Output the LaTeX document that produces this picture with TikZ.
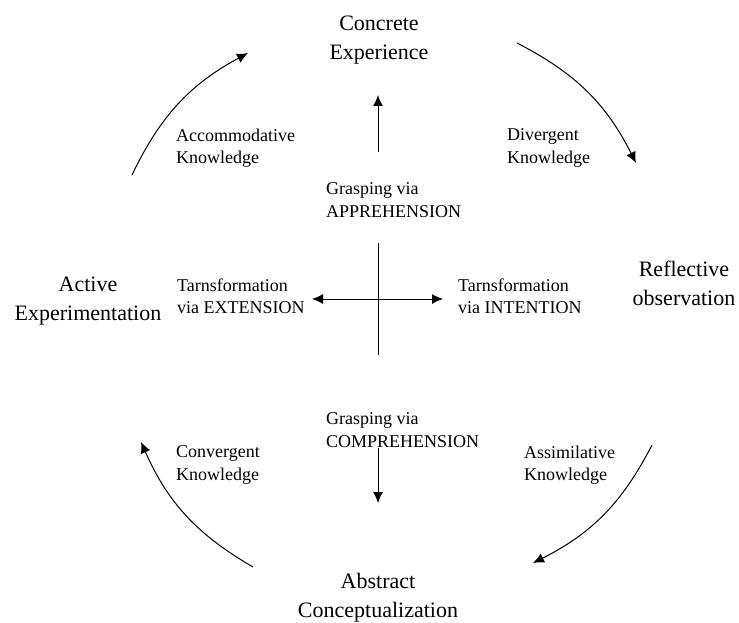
\documentclass[tikz,border=0pt]{standalone}
\usepackage{fontspec}
\setmainfont{Liberation Serif}
\usetikzlibrary{arrows.meta, positioning}

\begin{document}
\begin{tikzpicture}[x=1pt,y=-1pt,
    stage/.style={align=center,font=\fontsize{22}{29}\selectfont,inner sep=0pt},
    note/.style={align=left,anchor=west,font=\fontsize{18}{22.5}\selectfont,inner sep=0pt},
    flow/.style={line width=1pt,-{Latex[length=11pt,width=10pt]}}]
    \useasboundingbox (0,0) rectangle (739,623);

    % the four stages
    \node[stage] (ce) at (379,40) {Concrete\\Experience};
    \node[stage] (ro) at (684,283) {Reflective\\observation};
    \node[stage] (ac) at (378,598) {Abstract\\Conceptualization};
    \node[stage] (ae) at (88,301) {Active\\Experimentation};

    % knowledge types
    \node[note] (accom) at (176,148) {Accommodative\\Knowledge};
    \node[note] (diverg) at (507,148) {Divergent\\Knowledge};
    \node[note] (assim) at (524,465) {Assimilative\\Knowledge};
    \node[note] (converg) at (176,465) {Convergent\\Knowledge};

    % grasping and transformation
    \node[note] (appre) at (326,200) {Grasping via\\APPREHENSION};
    \node[note] (compre) at (326,430) {Grasping via\\COMPREHENSION};
    \node[note] (exten) at (177,296) {Tarnsformation\\via EXTENSION};
    \node[note] (inten) at (458,296) {Tarnsformation\\via INTENTION};

    % end points of the arrows
    \coordinate (up-a) at (378,152);
    \coordinate (up-b) at (378,95);
    \coordinate (down-a) at (378,448);
    \coordinate (down-b) at (378,503);
    \coordinate (vert-a) at (378,243);
    \coordinate (vert-b) at (378,355);
    \coordinate (hor-a) at (312,299);
    \coordinate (hor-b) at (443,299);
    \coordinate (tl-a) at (132,175);
    \coordinate (tl-b) at (248,53);
    \coordinate (tr-a) at (517,43);
    \coordinate (tr-b) at (636,163);
    \coordinate (br-a) at (652,445);
    \coordinate (br-b) at (533,563);
    \coordinate (bl-a) at (253,567);
    \coordinate (bl-b) at (141,442);

    % the cycle
    \draw[flow] (tl-a) to[bend left=18] (tl-b);
    \draw[flow] (tr-a) to[bend left=18] (tr-b);
    \draw[flow] (br-a) to[bend left=18] (br-b);
    \draw[flow] (bl-a) to[bend left=18] (bl-b);

    % the cross in the middle
    \draw[flow] (up-a) -- (up-b);
    \draw[flow] (down-a) -- (down-b);
    \draw[line width=1pt] (vert-a) -- (vert-b);
    \draw[flow,{Latex[length=11pt,width=10pt]}-{Latex[length=11pt,width=10pt]}] (hor-a) -- (hor-b);
\end{tikzpicture}
\end{document}
